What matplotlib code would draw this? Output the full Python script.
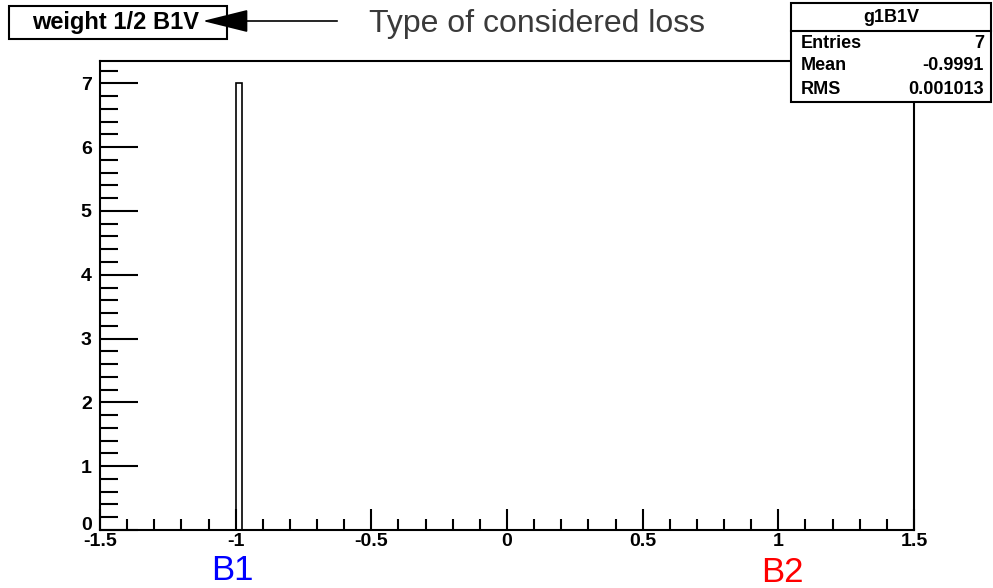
import matplotlib
matplotlib.use("Agg")
import matplotlib.pyplot as plt
import matplotlib.transforms as mtransforms
from matplotlib.patches import Rectangle, FancyArrowPatch
from matplotlib.ticker import MultipleLocator

# --------------
# Data
# --------------
bin_edges = [-1.0]
bin_width = 0.025
counts = [7]
hist_name = "g1B1V"
stats_labels = ["Entries", "Mean", "RMS"]
stats_values = ["7", "-0.9991", "0.001013"]
title = "weight 1/2 B1V"
note = "Type of considered loss"

plt.rcParams['font.family'] = ['Liberation Sans', 'DejaVu Sans']

fig = plt.figure(figsize=(9.93, 5.88), dpi=100)
W, H = 993, 588

def fx(px):
    return px / W

def fy(py):
    return 1 - py / H

# --------------
# Histogram frame
# --------------
ax = fig.add_axes([fx(100), fy(530), fx(914) - fx(100), fy(61) - fy(530)])
ax.bar(bin_edges, counts, width=bin_width, align='edge',
       facecolor='white', edgecolor='black', linewidth=1.2)

ax.xaxis.set_major_locator(MultipleLocator(0.5))
ax.xaxis.set_minor_locator(MultipleLocator(0.1))
ax.yaxis.set_major_locator(MultipleLocator(1))
ax.yaxis.set_minor_locator(MultipleLocator(0.2))
ax.tick_params(axis='x', which='major', direction='in', length=15, width=1.5,
               top=False, labelsize=14, pad=2)
ax.tick_params(axis='x', which='minor', direction='in', length=8, width=1.5, top=False)
ax.tick_params(axis='y', which='major', direction='in', length=27, width=1.5,
               right=False, labelsize=14, pad=6)
ax.tick_params(axis='y', which='minor', direction='in', length=13, width=1.5, right=False)
xt = [-1.5, -1.0, -0.5, 0.0, 0.5, 1.0, 1.5]
yt = [0, 1, 2, 3, 4, 5, 6, 7]
ax.set_xticks(xt)
ax.set_xticklabels([f"{v:g}" for v in xt], fontweight='bold')
ax.set_yticks(yt)
ax.set_yticklabels([f"{v:g}" for v in yt], fontweight='bold')
ax.set_xlim(-1.5, 1.5)
ax.set_ylim(0, 7.35)
for s in ax.spines.values():
    s.set_linewidth(1.5)

# nudge the "0" label up a little, as ROOT does
lab0 = ax.get_yticklabels()[0]
lab0.set_transform(lab0.get_transform() +
                   mtransforms.ScaledTranslation(0, 7 / 100, fig.dpi_scale_trans))

# --------------
# Title box and arrow
# --------------
fig.patches.append(Rectangle((fx(9), fy(39)), fx(227) - fx(9), fy(6) - fy(39),
                             transform=fig.transFigure, facecolor='white',
                             edgecolor='black', linewidth=1.5))
fig.text(fx(116), fy(22), title, ha='center', va='center',
         fontsize=17, fontweight='bold')
fig.add_artist(FancyArrowPatch(
    (fx(340), fy(21)), (fx(200), fy(21)), transform=fig.transFigure,
    arrowstyle='-|>,head_length=1.45,head_width=0.36', color='black',
    linewidth=1.2, mutation_scale=20, zorder=10))
fig.text(fx(369), fy(24), note, ha='left', va='center', fontsize=23, color='#3a3a3a')

# --------------
# Stats box
# --------------
bx0, bx1, by0, by1 = 791, 991, 3, 102
fig.patches.append(Rectangle((fx(bx0), fy(by1)), fx(bx1) - fx(bx0), fy(by0) - fy(by1),
                             transform=fig.transFigure, facecolor='white',
                             edgecolor='black', linewidth=1.5, zorder=5))
fig.add_artist(plt.Line2D([fx(bx0), fx(bx1)], [fy(31), fy(31)],
                          transform=fig.transFigure, color='black', linewidth=1.5, zorder=6))
fig.text(fx((bx0 + bx1) / 2), fy(17), hist_name, ha='center', va='center',
         fontsize=13, fontweight='bold', zorder=7)
for i, (lab, val) in enumerate(zip(stats_labels, stats_values)):
    y = fy(43 + i * 23)
    fig.text(fx(801), y, lab, ha='left', va='center', fontsize=13,
             fontweight='bold', zorder=7)
    fig.text(fx(984), y, val, ha='right', va='center', fontsize=13,
             fontweight='bold', zorder=7)

# --------------
# Beam labels
# --------------
fig.text(fx(232), fy(570), "B1", ha='center', va='center', fontsize=25, color='blue')
fig.text(fx(782), fy(572), "B2", ha='center', va='center', fontsize=25, color='red')

fig.savefig("out.png", dpi=100)
